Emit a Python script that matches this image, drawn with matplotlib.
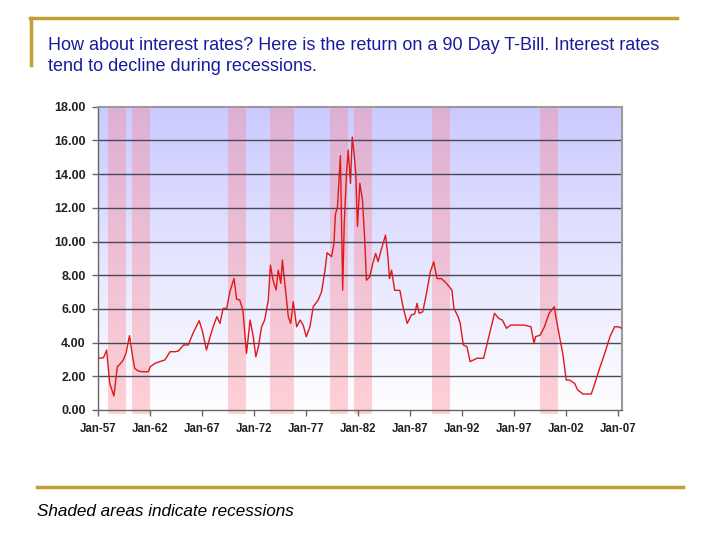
import numpy as np
import matplotlib
matplotlib.use("Agg")
import matplotlib.pyplot as plt
from matplotlib.patches import Rectangle
from matplotlib.lines import Line2D
import matplotlib.transforms as mtransforms

# ---- data ----
years = [1957.0, 1957.5, 1957.8, 1958.1, 1958.5, 1958.83, 1959.1, 1959.4, 1959.66, 1960.0,
         1960.3, 1960.5, 1960.85, 1961.3, 1961.8, 1962.0, 1962.45, 1962.9, 1963.4, 1963.9,
         1964.4, 1964.7, 1965.2, 1965.65, 1966.1, 1966.7, 1967.0, 1967.4, 1967.75, 1968.05,
         1968.4, 1968.7, 1969.0, 1969.35, 1969.65, 1970.05, 1970.3, 1970.6, 1970.9, 1971.25,
         1971.6, 1971.9, 1972.15, 1972.4, 1972.7, 1973.0, 1973.35, 1973.55, 1973.8, 1974.1,
         1974.3, 1974.55, 1974.7, 1974.95, 1975.27, 1975.5, 1975.75, 1976.07, 1976.4, 1976.7,
         1977.0, 1977.35, 1977.67, 1978.15, 1978.47, 1978.8, 1979.0, 1979.43, 1979.66, 1979.8,
         1980.0, 1980.28, 1980.5, 1980.65, 1980.87, 1981.03, 1981.25, 1981.42, 1981.6, 1981.76,
         1981.92, 1982.15, 1982.4, 1982.62, 1982.78, 1983.1, 1983.4, 1983.67, 1983.9, 1984.2,
         1984.62, 1984.85, 1985.0, 1985.2, 1985.5, 1986.0, 1986.3, 1986.7, 1987.1, 1987.42,
         1987.65, 1987.85, 1988.2, 1988.55, 1988.93, 1989.25, 1989.57, 1990.0, 1990.5, 1991.0,
         1991.2, 1991.6, 1991.8, 1992.1, 1992.45, 1992.75, 1993.4, 1994.05, 1994.4, 1994.7,
         1995.1, 1995.5, 1995.85, 1996.25, 1996.65, 1997.3, 1997.95, 1998.6, 1998.9, 1999.05,
         1999.5, 1999.9, 2000.35, 2000.85, 2001.0, 2001.35, 2001.66, 2002.0, 2002.3, 2002.8,
         2003.1, 2003.6, 2004.4, 2004.75, 2005.2, 2005.7, 2006.2, 2006.65, 2007.0, 2007.35]
rates = [3.07, 3.1, 3.56, 1.58, 0.83, 2.57, 2.73, 2.97, 3.36, 4.41,
         3.16, 2.47, 2.31, 2.27, 2.27, 2.57, 2.77, 2.87, 2.97, 3.46,
         3.46, 3.5, 3.86, 3.86, 4.55, 5.3, 4.7, 3.56, 4.35, 4.94,
         5.54, 5.14, 6.03, 6.03, 7.02, 7.81, 6.57, 6.53, 5.93, 3.36,
         5.34, 4.35, 3.16, 3.76, 4.94, 5.34, 6.53, 8.6, 7.71, 7.12,
         8.3, 7.52, 8.9, 7.42, 5.54, 5.14, 6.43, 4.94, 5.34, 5.04,
         4.35, 4.94, 6.13, 6.53, 7.02, 8.3, 9.33, 9.1, 9.9, 11.6,
         12.06, 15.1, 7.12, 11.08, 14.04, 15.43, 13.45, 16.2, 15.2, 14.0,
         10.9, 13.45, 12.46, 10.1, 7.7, 7.9, 8.7, 9.3, 8.8, 9.5,
         10.38, 9.1, 7.8, 8.3, 7.1, 7.1, 6.13, 5.14, 5.64, 5.7,
         6.33, 5.74, 5.83, 6.9, 8.2, 8.8, 7.8, 7.8, 7.5, 7.12,
         6.03, 5.54, 5.14, 3.86, 3.76, 2.87, 3.07, 3.07, 3.96, 4.75,
         5.74, 5.44, 5.34, 4.85, 5.04, 5.04, 5.04, 4.94, 3.96, 4.35,
         4.45, 4.94, 5.74, 6.13, 5.54, 4.35, 3.36, 1.78, 1.78, 1.58,
         1.19, 0.95, 0.95, 1.58, 2.47, 3.36, 4.35, 4.94, 4.94, 4.85]
rec_start = [1957.96, 1960.27, 1969.5, 1973.5, 1979.3, 1981.6, 1989.1, 1999.5]
rec_end = [1959.66, 1961.97, 1971.2, 1975.8, 1981.0, 1983.3, 1990.8, 2001.2]
tick_years = [1957, 1962, 1967, 1972, 1977, 1982, 1987, 1992, 1997, 2002, 2007]
tick_labels = ["Jan-57", "Jan-62", "Jan-67", "Jan-72", "Jan-77", "Jan-82",
               "Jan-87", "Jan-92", "Jan-97", "Jan-02", "Jan-07"]
y_ticks = [0, 2, 4, 6, 8, 10, 12, 14, 16, 18]

plt.rcParams['font.family'] = ['Liberation Sans', 'DejaVu Sans']

fig = plt.figure(figsize=(7.2, 5.4), dpi=100)
fig.patch.set_facecolor('white')

W, H = 720, 540
ax = fig.add_axes([98.3 / W, 1 - 410 / H, (621.7 - 98.3) / W, (410 - 106.7) / H])
x0, x1 = 1957.0, 2007.33
ax.set_xlim(x0, x1)
ax.set_ylim(0, 18)

# gradient background (blue top -> white bottom)
grad = np.linspace(0, 1, 256).reshape(-1, 1)
top = np.array([202, 202, 255]) / 255.0
bot = np.array([255, 255, 255]) / 255.0
img = bot[None, None, :] * (1 - grad[:, :, None]) + top[None, None, :] * grad[:, :, None]
ax.imshow(img, extent=[x0, x1, 0, 18], origin='lower', aspect='auto', zorder=0)

# recession bands
trans = mtransforms.blended_transform_factory(ax.transData, ax.transAxes)
for s, e in zip(rec_start, rec_end):
    ax.add_patch(Rectangle((s, -0.012), e - s, 1.012, transform=trans,
                           facecolor=(1.0, 0.52, 0.56), alpha=0.38,
                           edgecolor='none', zorder=1, clip_on=False))

# gridlines
for yv in y_ticks[1:-1]:
    ax.axhline(yv, color='#484858', lw=1.0, zorder=2)

ax.plot(years, rates, color='#e01818', lw=1.0, zorder=3)

ax.set_xticks(tick_years)
ax.set_xticklabels(tick_labels)
ax.set_yticks(y_ticks)
ax.set_yticklabels([f"{v:.2f}" for v in y_ticks])
for lab in ax.get_xticklabels():
    lab.set_fontweight('bold')
    lab.set_fontsize(8.3)
    lab.set_color('#222222')
for lab in ax.get_yticklabels():
    lab.set_fontweight('bold')
    lab.set_fontsize(9)
    lab.set_color('#222222')
ax.tick_params(axis='both', direction='out', length=4, width=1, color='#666666', pad=5)

for side in ['top', 'right']:
    ax.spines[side].set_color('#9a9a9a')
    ax.spines[side].set_linewidth(1.5)
for side in ['left', 'bottom']:
    ax.spines[side].set_color('#666666')
    ax.spines[side].set_linewidth(1.0)

# slide decorations
gold = '#c0a030'
fig.add_artist(Line2D([30 / W, 677 / W], [1 - 18 / H, 1 - 18 / H], color=gold, lw=2.5))
fig.add_artist(Line2D([31 / W, 31 / W], [1 - 18 / H, 1 - 65 / H], color=gold, lw=2.5))
fig.add_artist(Line2D([37 / W, 683 / W], [1 - 487 / H, 1 - 487 / H], color=gold, lw=2.5))

fig.text(48 / W, 1 - 37 / H,
         "How about interest rates? Here is the return on a 90 Day T-Bill. Interest rates\n"
         "tend to decline during recessions.",
         ha='left', va='top', fontsize=13, color='#1a1a9c', linespacing=1.33)
fig.text(37 / W, 1 - 511 / H, "Shaded areas indicate recessions",
         ha='left', va='center', fontsize=12.3, style='italic', color='black')

fig.savefig('out.png', dpi=100)
